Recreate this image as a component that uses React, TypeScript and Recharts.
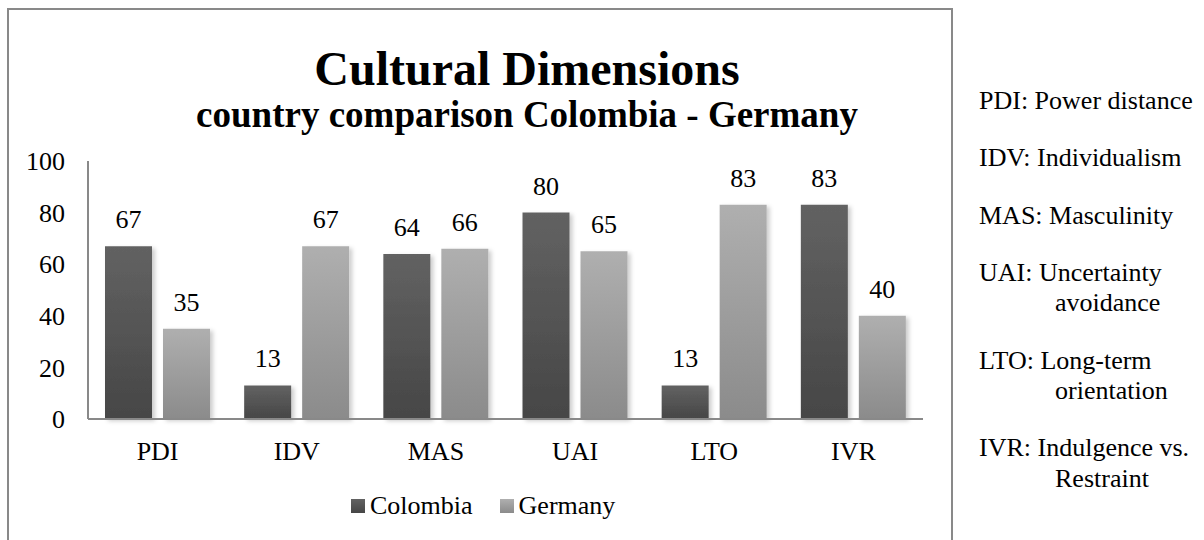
import { BarChart, Bar, XAxis, YAxis, Legend, LabelList } from 'recharts'

const dimensions = ['PDI', 'IDV', 'MAS', 'UAI', 'LTO', 'IVR']
const colombia = [67, 13, 64, 80, 13, 83]
const germany = [35, 67, 66, 65, 83, 40]
const yTicks = [0, 20, 40, 60, 80, 100]
const notes = [
  ['PDI: Power distance'],
  ['IDV: Individualism'],
  ['MAS: Masculinity'],
  ['UAI: Uncertainty', 'avoidance'],
  ['LTO: Long-term', 'orientation'],
  ['IVR: Indulgence vs.', 'Restraint'],
]

const FONT = '"Liberation Serif", "Times New Roman", serif'
const AXIS = '#898989'

// css versions of the svg gradients, for the legend swatches
const swatch: Record<string, string> = {
  Colombia: 'linear-gradient(#626262, #464646)',
  Germany: 'linear-gradient(#afafaf, #8b8b8b)',
}

const data = dimensions.map((d, i) => ({ dim: d, Colombia: colombia[i], Germany: germany[i] }))

type LegendProps = { payload?: { value: string }[] }

function LegendRow({ payload }: LegendProps) {
  return (
    <div style={{ display: 'flex', alignItems: 'center', fontFamily: FONT, fontSize: 26, lineHeight: 1, color: '#000' }}>
      {(payload ?? []).map((p, i) => (
        <span key={p.value} style={{ display: 'flex', alignItems: 'center', marginLeft: i ? 27 : 0 }}>
          <span style={{ width: 14, height: 14, background: swatch[p.value], marginRight: 5 }} />
          {p.value}
        </span>
      ))}
    </div>
  )
}

export default function App() {
  return (
    <div style={{ position: 'absolute', left: 0, top: 0, width: 1204, height: 540, background: '#fff', overflow: 'hidden' }}>
      {/* chart frame, bottom edge runs off the page */}
      <div style={{ position: 'absolute', left: 7, top: 8, width: 946, height: 620, border: `2px solid ${AXIS}`, boxSizing: 'border-box' }} />

      <div style={{ position: 'absolute', left: 0, width: 1054, top: 45, textAlign: 'center', fontFamily: FONT, fontWeight: 'bold', fontSize: 48, lineHeight: 1, whiteSpace: 'nowrap' }}>
        Cultural Dimensions
      </div>
      <div style={{ position: 'absolute', left: 0, width: 1054, top: 96, textAlign: 'center', fontFamily: FONT, fontWeight: 'bold', fontSize: 37, lineHeight: 1, whiteSpace: 'nowrap' }}>
        country comparison Colombia - Germany
      </div>

      <div style={{ position: 'absolute', left: 0, top: 0 }}>
        <BarChart
          width={952}
          height={540}
          data={data}
          margin={{ top: 161, right: 29, bottom: 91, left: 38 }}
          barCategoryGap={17}
          barGap={11}
        >
          <defs>
            <linearGradient id="gradCol" x1="0" y1="0" x2="0" y2="1">
              <stop offset="0%" stopColor="#626262" />
              <stop offset="100%" stopColor="#464646" />
            </linearGradient>
            <linearGradient id="gradGer" x1="0" y1="0" x2="0" y2="1">
              <stop offset="0%" stopColor="#afafaf" />
              <stop offset="100%" stopColor="#8b8b8b" />
            </linearGradient>
            <filter id="barShadow" x="-20%" y="-10%" width="150%" height="130%">
              <feDropShadow dx="3" dy="2" stdDeviation="2" floodColor="#000" floodOpacity="0.2" />
            </filter>
          </defs>
          <XAxis
            dataKey="dim"
            height={30}
            tickLine={false}
            tickSize={0}
            tickMargin={23}
            axisLine={{ stroke: AXIS, strokeWidth: 2 }}
            tick={{ fontFamily: FONT, fontSize: 26, fill: '#000' }}
          />
          <YAxis
            width={50}
            domain={[0, 100]}
            ticks={yTicks}
            interval={0}
            tickLine={false}
            tickSize={0}
            tickMargin={23}
            axisLine={{ stroke: AXIS, strokeWidth: 2 }}
            tick={{ fontFamily: FONT, fontSize: 26, fill: '#000' }}
          />
          <Legend
            verticalAlign="middle"
            align="center"
            content={<LegendRow />}
            wrapperStyle={{ position: 'absolute', left: 351, top: 493, width: 'auto' }}
          />
          <Bar dataKey="Colombia" fill="url(#gradCol)" filter="url(#barShadow)" isAnimationActive={false}>
            <LabelList dataKey="Colombia" position="top" offset={18} style={{ fontFamily: FONT, fontSize: 26, fill: '#000' }} />
          </Bar>
          <Bar dataKey="Germany" fill="url(#gradGer)" filter="url(#barShadow)" isAnimationActive={false}>
            <LabelList dataKey="Germany" position="top" offset={18} style={{ fontFamily: FONT, fontSize: 26, fill: '#000' }} />
          </Bar>
        </BarChart>
      </div>

      {/* abbreviation key on the right */}
      <div style={{ position: 'absolute', left: 979, top: 86, display: 'flex', flexDirection: 'column', gap: 26.8, fontFamily: FONT, fontSize: 26, lineHeight: '30.5px', whiteSpace: 'nowrap' }}>
        {notes.map(lines => (
          <div key={lines[0]}>
            {lines.map((l, j) => (
              <div key={l} style={{ paddingLeft: j ? 76 : 0 }}>{l}</div>
            ))}
          </div>
        ))}
      </div>
    </div>
  )
}
